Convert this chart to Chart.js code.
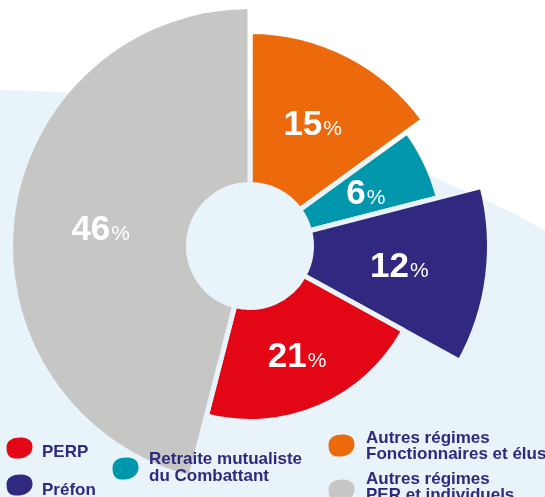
<!DOCTYPE html>
<html lang="fr">
<head>
<meta charset="utf-8">
<title>Répartition</title>
<script src="https://cdn.jsdelivr.net/npm/chart.js@4.4.1/dist/chart.umd.min.js"></script>
<style>
    html, body { margin: 0; padding: 0; background: #ffffff; }
    #wrap { width: 545px; height: 497px; position: relative; overflow: hidden; }
</style>
</head>
<body>
<div id="wrap"><canvas id="grafico" width="545" height="497"></canvas></div>
<script>
// datos, en el sentido de las agujas del reloj desde las 12
const categorias = [
    ['Autres régimes', 'Fonctionnaires et élus'],
    ['Retraite mutualiste', 'du Combattant'],
    ['Préfon'],
    ['PERP'],
    ['Autres régimes', 'PER et individuels']
];
const porcentajes = [15, 6, 12, 21, 46];

// estilos
const colores = ['#ec6a0c', '#0097ac', '#31287f', '#e30614', '#c6c6c5'];
const escalaRadio = [0.895, 0.81, 1, 0.73, 1];
const RADIO = 237;
const HUECO = 64;
const BORDE = 5;
const colorTexto = '#31287f';
const fuente = '"Liberation Sans", Arial, Helvetica, sans-serif';

// posicion de la leyenda: [blobX, blobY, blobW, blobH, textoX, base]
const leyendaPos = [
    [328, 434, 27, 23, 366, 442.5],
    [112, 457, 27, 23, 149, 464],
    [6, 474, 27, 22, 42, 494.5],
    [6, 437, 27, 22, 42, 457],
    [328, 479, 27, 23, 366, 483.5]
];

const canvas = document.getElementById('grafico');

// fondo blanco con la gran curva celeste; tambien sirve para pintar las separaciones
const lienzoFondo = document.createElement('canvas');
lienzoFondo.width = canvas.width;
lienzoFondo.height = canvas.height;
(function () {
    const c = lienzoFondo.getContext('2d');
    c.fillStyle = '#ffffff';
    c.fillRect(0, 0, lienzoFondo.width, lienzoFondo.height);
    c.fillStyle = '#e8f4f9';
    c.beginPath();
    c.arc(-11, 1265, 1175, 0, Math.PI * 2);
    c.fill();
})();
const patronFondo = canvas.getContext('2d').createPattern(lienzoFondo, 'no-repeat');

const fondo = {
    id: 'fondo',
    beforeDraw(chart) {
        chart.ctx.drawImage(lienzoFondo, 0, 0);
    }
};

const radios = {
    id: 'radios',
    afterDatasetUpdate(chart, args) {
        const meta = args.meta;
        const ctrl = meta.controller;
        meta.data.forEach(function (arc, i) {
            arc.outerRadius = (ctrl.outerRadius - BORDE / 2) * escalaRadio[i] + BORDE / 2;
        });
    }
};

const etiquetas = {
    id: 'etiquetas',
    afterDatasetsDraw(chart) {
        const ctx = chart.ctx;
        const meta = chart.getDatasetMeta(0);
        ctx.save();
        ctx.fillStyle = '#ffffff';
        ctx.textBaseline = 'alphabetic';
        ctx.textAlign = 'left';
        meta.data.forEach(function (arc, i) {
            const p = arc.tooltipPosition();
            const num = String(porcentajes[i]);
            ctx.font = 'bold 35px ' + fuente;
            const w1 = ctx.measureText(num).width;
            ctx.font = '21px ' + fuente;
            const w2 = ctx.measureText('%').width;
            const x0 = p.x - (w1 + w2 + 1) / 2;
            const base = p.y + 12.5;
            ctx.font = 'bold 35px ' + fuente;
            ctx.fillText(num, x0, base);
            ctx.font = '21px ' + fuente;
            ctx.fillText('%', x0 + w1 + 1, base);
        });
        ctx.restore();
    }
};

function blob(ctx, x, y, w, h) {
    ctx.beginPath();
    ctx.moveTo(x + 0.02 * w, y + 0.5 * h);
    ctx.bezierCurveTo(x, y + 0.12 * h, x + 0.3 * w, y, x + 0.6 * w, y + 0.02 * h);
    ctx.bezierCurveTo(x + 0.9 * w, y + 0.05 * h, x + w, y + 0.25 * h, x + 0.98 * w, y + 0.5 * h);
    ctx.bezierCurveTo(x + 0.95 * w, y + 0.85 * h, x + 0.65 * w, y + h, x + 0.35 * w, y + 0.98 * h);
    ctx.bezierCurveTo(x + 0.1 * w, y + 0.95 * h, x + 0.03 * w, y + 0.8 * h, x + 0.02 * w, y + 0.5 * h);
    ctx.fill();
}

const leyenda = {
    id: 'leyenda',
    afterDraw(chart) {
        const ctx = chart.ctx;
        ctx.save();
        ctx.textAlign = 'left';
        ctx.textBaseline = 'alphabetic';
        ctx.font = 'bold 17px ' + fuente;
        categorias.forEach(function (lineas, i) {
            const p = leyendaPos[i];
            ctx.fillStyle = colores[i];
            blob(ctx, p[0], p[1], p[2], p[3]);
            ctx.fillStyle = colorTexto;
            lineas.forEach(function (t, k) {
                ctx.fillText(t, p[4], p[5] + k * 16.6);
            });
        });
        ctx.restore();
    }
};

new Chart(canvas, {
    type: 'doughnut',
    data: {
        labels: categorias,
        datasets: [{
            data: porcentajes,
            backgroundColor: colores,
            borderColor: patronFondo,
            borderWidth: BORDE,
            borderAlign: 'center'
        }]
    },
    options: {
        responsive: false,
        animation: false,
        events: [],
        rotation: 0,
        radius: RADIO + BORDE / 2,
        cutout: ((HUECO - BORDE / 2) / (RADIO + BORDE / 2) * 100) + '%',
        layout: { padding: { left: 0, right: 45, top: 0, bottom: 5 } },
        plugins: {
            legend: { display: false },
            tooltip: { enabled: false }
        }
    },
    plugins: [fondo, radios, etiquetas, leyenda]
});
</script>
</body>
</html>
